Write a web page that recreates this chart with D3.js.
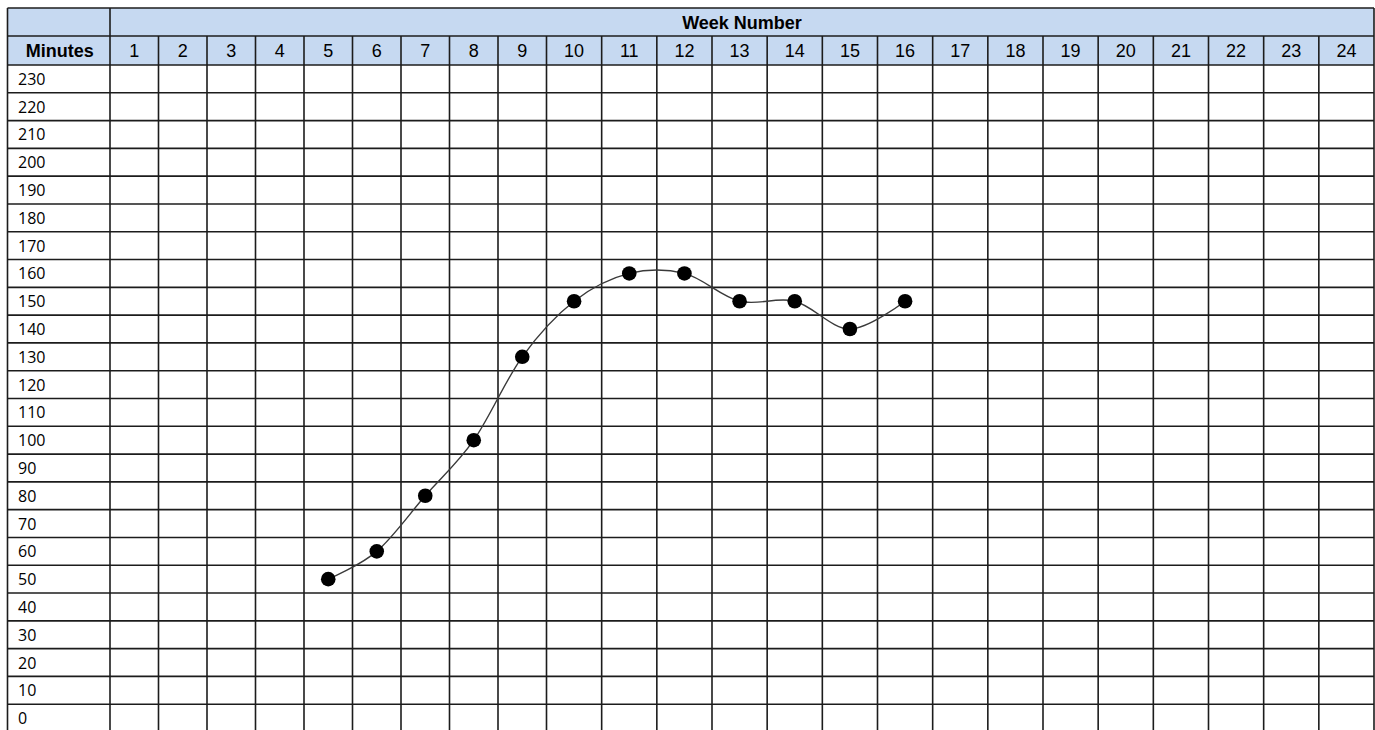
<!DOCTYPE html>
<html>
<head>
<meta charset="utf-8">
<script src="https://cdn.jsdelivr.net/npm/d3@7"></script>
<style>
  body { margin: 0; background: #fff; }
  svg { display: block; }
</style>
</head>
<body>
<svg id="chart" width="1375" height="730"></svg>
<script>
// week numbers across the top
var weeks = [1, 2, 3, 4, 5, 6, 7, 8, 9, 10, 11, 12, 13, 14, 15, 16, 17, 18, 19, 20, 21, 22, 23, 24];
// minute labels down the side
var minuteLabels = [230, 220, 210, 200, 190, 180, 170, 160, 150, 140, 130, 120, 110, 100, 90, 80, 70, 60, 50, 40, 30, 20, 10, 0];
// plotted series
var seriesWeeks = [5, 6, 7, 8, 9, 10, 11, 12, 13, 14, 15, 16];
var seriesMinutes = [50, 60, 80, 100, 130, 150, 160, 160, 150, 150, 140, 150];

var svg = d3.select("#chart");
var gridLeft = 7.5, labelCol = 110, gridTop = 8, head1 = 36, head2 = 65, gridRight = 1374, gridBottom = 732;

// columns 1-9 are narrower than 10-24 in the sheet
var x = d3.scaleLinear().domain([0.5, 9.5, 24.5]).range([labelCol, 546.5, gridRight]);
var y = d3.scaleLinear().domain([235, -5]).range([head2, gridBottom]);

var lineColor = "#1c1c1c";
var headFill = "#c6d9f1";

// header background
svg.append("rect")
  .attr("x", gridLeft).attr("y", gridTop)
  .attr("width", gridRight - gridLeft).attr("height", head2 - gridTop)
  .attr("fill", headFill);

// horizontal rules
var hLines = [gridTop, head1].concat(minuteLabels.map(function(v) { return y(v + 5); }));
svg.selectAll("line.h")
  .data(hLines)
  .enter()
  .append("line")
  .attr("class", "h")
  .attr("x1", gridLeft).attr("x2", gridRight)
  .attr("y1", function(d) { return d; })
  .attr("y2", function(d) { return d; })
  .attr("stroke", lineColor).attr("stroke-width", 1.6);

// vertical rules: full height ones, then week column edges below the merged cell
svg.selectAll("line.vfull")
  .data([gridLeft, labelCol, gridRight])
  .enter()
  .append("line")
  .attr("class", "vfull")
  .attr("x1", function(d) { return d; })
  .attr("x2", function(d) { return d; })
  .attr("y1", gridTop).attr("y2", gridBottom)
  .attr("stroke", lineColor).attr("stroke-width", 1.6);

svg.selectAll("line.v")
  .data(weeks.slice(0, -1))
  .enter()
  .append("line")
  .attr("class", "v")
  .attr("x1", function(d) { return x(d + 0.5); })
  .attr("x2", function(d) { return x(d + 0.5); })
  .attr("y1", head1).attr("y2", gridBottom)
  .attr("stroke", lineColor).attr("stroke-width", 1.6);

// header texts
svg.append("text")
  .attr("x", (labelCol + gridRight) / 2).attr("y", 29)
  .attr("text-anchor", "middle")
  .style("font", "bold 18px 'Liberation Sans', Arial, sans-serif")
  .text("Week Number");

svg.append("text")
  .attr("x", (gridLeft + labelCol) / 2 + 1).attr("y", 57)
  .attr("text-anchor", "middle")
  .style("font", "bold 18px 'Liberation Sans', Arial, sans-serif")
  .text("Minutes");

svg.selectAll("text.week")
  .data(weeks)
  .enter()
  .append("text")
  .attr("class", "week")
  .attr("x", function(d) { return x(d); })
  .attr("y", 57)
  .attr("text-anchor", "middle")
  .style("font", "18px 'Liberation Sans', Arial, sans-serif")
  .text(function(d) { return d; });

svg.selectAll("text.min")
  .data(minuteLabels)
  .enter()
  .append("text")
  .attr("class", "min")
  .attr("x", 18)
  .attr("y", function(d) { return y(d) + 6; })
  .style("font", "16px 'Open Sans', sans-serif")
  .style("fill", "#000")
  .text(function(d) { return d; });

// the series
var pts = seriesWeeks.map(function(w, i) { return [w, seriesMinutes[i]]; });

var line = d3.line()
  .x(function(d) { return x(d[0]); })
  .y(function(d) { return y(d[1]); })
  .curve(d3.curveCardinal.tension(0));

svg.append("path")
  .datum(pts)
  .attr("d", line)
  .attr("fill", "none")
  .attr("stroke", "#3a3a3a")
  .attr("stroke-width", 1.4);

svg.selectAll("circle")
  .data(pts)
  .enter()
  .append("circle")
  .attr("cx", function(d) { return x(d[0]); })
  .attr("cy", function(d) { return y(d[1]); })
  .attr("r", 7.3)
  .attr("fill", "#000");
</script>
</body>
</html>
